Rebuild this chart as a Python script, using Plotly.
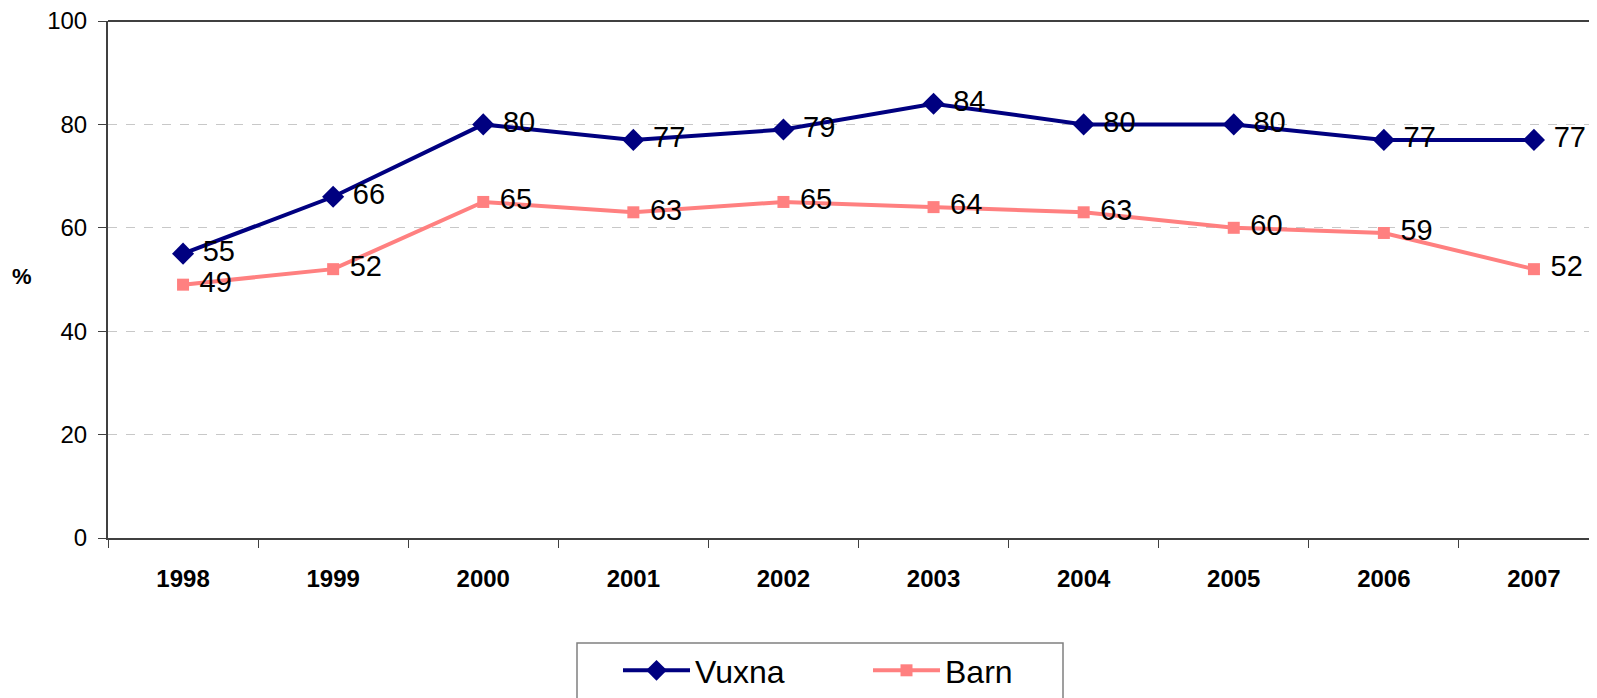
import plotly.graph_objects as go

years = ["1998", "1999", "2000", "2001", "2002", "2003", "2004", "2005", "2006", "2007"]
vuxna = [55, 66, 80, 77, 79, 84, 80, 80, 77, 77]
barn = [49, 52, 65, 63, 65, 64, 63, 60, 59, 52]
y_ticks = [0, 20, 40, 60, 80, 100]

# the page body has an 8px margin; the figure is sized to fit the window
W, H = 1589, 690
L, R, T, B = 100, 0, 13, 160
pw, ph = W - L - R, H - T - B


def px(fx):
    return (fx - L) / pw


def py(fy):
    return (H - B - fy) / ph


fig = go.Figure()
fig.add_trace(go.Scatter(
    x=years, y=vuxna, name="Vuxna", mode="lines+markers+text",
    line=dict(color="#000080", width=4),
    marker=dict(symbol="diamond", size=17, color="#000080"),
    text=[" " + str(v) for v in vuxna], textposition="middle right",
    textfont=dict(family="Liberation Sans, Arial", size=29, color="black"),
))
fig.add_trace(go.Scatter(
    x=years, y=barn, name="Barn", mode="lines+markers+text",
    line=dict(color="#FF8080", width=4),
    marker=dict(symbol="square", size=12, color="#FF8080"),
    text=[" " + str(v) for v in barn], textposition="middle right",
    textfont=dict(family="Liberation Sans, Arial", size=29, color="black"),
))

fig.update_layout(
    width=W, height=H,
    margin=dict(l=L, r=R, t=T, b=B, autoexpand=False),
    plot_bgcolor="white", paper_bgcolor="white",
    font=dict(family="Liberation Sans, Arial", color="black"),
    showlegend=True,
    legend=dict(
        orientation="h", x=px(610), y=py(635),
        xanchor="left", yanchor="top",
        borderwidth=0, bgcolor="rgba(0,0,0,0)",
        font=dict(size=32, family="Liberation Sans, Arial"),
        entrywidth=168, entrywidthmode="pixels", itemwidth=67,
    ),
    annotations=[dict(
        text="<b>%</b>", xref="paper", yref="paper",
        x=px(14), y=py(268),
        showarrow=False, font=dict(size=22, color="black"),
        xanchor="center", yanchor="middle",
    )],
)
fig.update_xaxes(
    type="category", range=[-0.5, 9.5 - 12 / 150],
    showline=True, linecolor="#404040", linewidth=2,
    ticks="outside", tickson="boundaries", ticklen=8, tickcolor="#404040",
    tickfont=dict(size=24, family="Liberation Sans, Arial", weight="bold"),
    showgrid=False, mirror=False, ticklabelstandoff=18,
)
fig.update_yaxes(
    range=[0, 100], tickvals=y_ticks,
    showline=True, linecolor="#404040", linewidth=2,
    ticks="outside", ticklen=8, tickcolor="#404040",
    tickfont=dict(size=24, family="Liberation Sans, Arial"),
    showgrid=True, gridcolor="#C8C8C8", griddash="dash", gridwidth=1,
    zeroline=False, ticklabelstandoff=6, ticklabeloverflow="allow",
)
# top border
fig.add_shape(type="line", xref="paper", yref="paper", x0=0, x1=1, y0=1, y1=1,
              line=dict(color="#404040", width=2))
# legend frame
fig.add_shape(type="rect", xref="paper", yref="paper",
              x0=px(569), x1=px(1055), y0=py(635), y1=py(720),
              line=dict(color="#808080", width=1.5), layer="below")

fig.write_html("out.html")
